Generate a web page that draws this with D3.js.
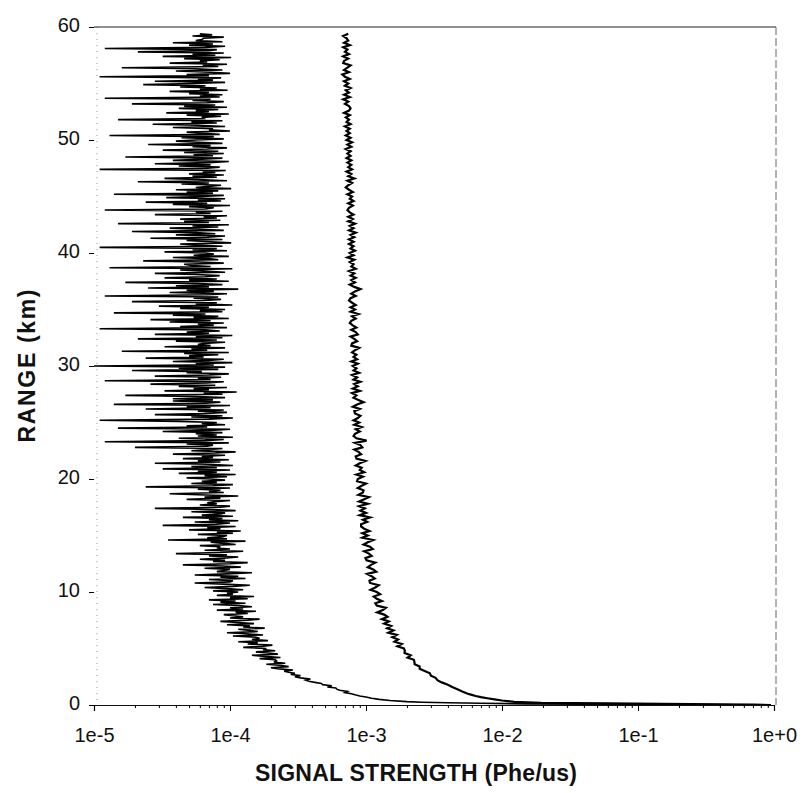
<html>
<head>
<meta charset="utf-8">
<style>
  body { margin: 0; background: #fff; }
  text { font-family: "Liberation Sans", Arial, sans-serif; fill: #111; }
</style>
</head>
<body>
<script src="https://cdn.jsdelivr.net/npm/d3@7"></script>
<script>

// axis ticks
var xTicks = [1e-5, 1e-4, 1e-3, 1e-2, 1e-1, 1];
var xTickLabels = ["1e-5", "1e-4", "1e-3", "1e-2", "1e-1", "1e+0"];
var yTicks = [0, 10, 20, 30, 40, 50, 60];

// near range part of each profile: [range km, signal in 1e-6 Phe/us]
var nearA = [[0.0, 900000], [0.03, 300000], [0.06, 60000], [0.1, 15000], [0.15, 7000],
             [0.2, 4000], [0.25, 2600], [0.3, 2000], [0.4, 1500], [0.5, 1250],
             [0.6, 1100], [0.7, 1000], [0.8, 900], [0.9, 830]];
var nearB = [[0.0, 950000], [0.03, 700000], [0.06, 400000], [0.1, 150000], [0.14, 60000],
             [0.18, 19400], [0.27, 12300], [0.4, 10000], [0.5, 8800], [0.6, 7800],
             [0.7, 7000], [0.8, 6400], [0.9, 6000]];

// channel A (weak channel): one row per km from 1 km, gate every 0.1 km, units 1e-6 Phe/us
var rowsA = [
  [780, 700, 730, 640, 610, 600, 520, 560, 480, 470],
  [420, 380, 360, 390, 330, 300, 330, 280, 300, 270],
  [250, 290, 230, 200, 270, 240, 185, 255, 210, 220],
  [215, 165, 235, 180, 145, 225, 190, 155, 215, 175],
  [185, 125, 175, 205, 135, 160, 115, 190, 145, 165],
  [155, 105, 175, 130, 95, 160, 140, 115, 180, 125],
  [140, 95, 150, 115, 85, 135, 165, 100, 125, 105],
  [90, 135, 110, 155, 80, 125, 100, 145, 115, 75],
  [130, 85, 110, 70, 135, 100, 150, 80, 105, 95],
  [115, 75, 125, 95, 65, 105, 140, 90, 55, 100],
  [105, 70, 130, 85, 115, 55, 95, 145, 80, 90],
  [100, 65, 120, 88, 45, 100, 135, 75, 92, 60],
  [90, 115, 70, 95, 40, 85, 125, 65, 100, 80],
  [85, 60, 110, 90, 72, 130, 35, 95, 68, 88],
  [95, 58, 105, 80, 120, 50, 85, 68, 110, 32],
  [80, 100, 55, 115, 70, 88, 45, 105, 62, 85],
  [92, 52, 110, 75, 28, 85, 100, 60, 80, 68],
  [78, 100, 48, 85, 65, 115, 58, 36, 90, 70],
  [85, 58, 100, 24, 75, 105, 52, 80, 62, 92],
  [72, 48, 95, 65, 110, 42, 80, 58, 100, 32],
  [80, 52, 105, 70, 28, 85, 58, 98, 45, 75],
  [62, 92, 38, 78, 110, 52, 70, 88, 20, 68],
  [75, 48, 98, 12, 66, 90, 42, 105, 58, 80],
  [56, 88, 32, 72, 100, 15, 68, 48, 92, 62],
  [80, 42, 11, 70, 105, 52, 88, 28, 65, 95],
  [58, 90, 24, 72, 48, 100, 14, 66, 85, 38],
  [75, 38, 92, 56, 17, 88, 64, 112, 33, 70],
  [54, 95, 42, 78, 26, 68, 90, 12, 72, 58],
  [86, 28, 70, 98, 48, 62, 19, 82, 42, 92],
  [10, 76, 56, 104, 38, 70, 90, 24, 64, 50],
  [82, 46, 98, 16, 68, 52, 92, 33, 72, 58],
  [64, 92, 40, 80, 21, 88, 56, 104, 28, 70],
  [48, 84, 66, 11, 95, 43, 76, 58, 90, 36],
  [72, 26, 98, 54, 82, 38, 66, 14, 88, 60],
  [92, 43, 70, 30, 104, 56, 80, 19, 64, 86],
  [54, 82, 12, 68, 95, 36, 76, 48, 115, 25],
  [70, 40, 88, 58, 17, 98, 50, 80, 33, 66],
  [84, 56, 28, 92, 64, 43, 104, 13, 72, 52],
  [46, 90, 60, 23, 82, 70, 38, 98, 54, 76],
  [66, 33, 95, 53, 80, 11, 88, 58, 43, 102],
  [72, 48, 88, 26, 68, 92, 40, 78, 56, 19],
  [90, 60, 36, 82, 53, 98, 15, 70, 46, 85],
  [43, 80, 64, 95, 28, 72, 56, 88, 12, 66],
  [76, 50, 100, 38, 68, 24, 86, 58, 92, 34],
  [62, 90, 14, 75, 48, 82, 40, 102, 56, 70],
  [86, 44, 70, 21, 95, 58, 33, 80, 53, 90],
  [50, 78, 63, 93, 11, 68, 84, 42, 72, 28],
  [70, 98, 38, 62, 88, 17, 75, 54, 90, 46],
  [82, 32, 68, 95, 53, 72, 25, 88, 58, 40],
  [56, 90, 44, 76, 13, 84, 63, 48, 100, 70],
  [75, 38, 92, 58, 27, 80, 52, 88, 15, 66],
  [62, 86, 48, 98, 34, 70, 56, 82, 42, 95],
  [46, 78, 19, 68, 90, 53, 72, 12, 84, 60],
  [88, 50, 70, 36, 96, 60, 80, 43, 66, 23],
  [54, 92, 28, 75, 58, 86, 11, 70, 48, 100],
  [72, 40, 88, 56, 16, 82, 63, 95, 36, 68],
  [60, 84, 46, 102, 32, 78, 53, 90, 21, 70],
  [80, 12, 66, 92, 50, 75, 38, 88, 56, 62],
  [64, 90, 53, 74, 60]
];

// channel B (strong channel): one row per km from 1 km, gate every 0.2 km, units 1e-6 Phe/us
var rowsB = [
  [5600, 5100, 4700, 4300, 4000],
  [3600, 3350, 3250, 3000, 2950],
  [2700, 2480, 2480, 2280, 2270],
  [2250, 2020, 2130, 1920, 1930],
  [1900, 1700, 1830, 1620, 1720],
  [1560, 1680, 1460, 1590, 1430],
  [1530, 1360, 1470, 1310, 1440],
  [1360, 1210, 1330, 1400, 1200],
  [1170, 1310, 1200, 1140, 1270],
  [1200, 1080, 1170, 1240, 1070],
  [1060, 1160, 1100, 1020, 1190],
  [1130, 1030, 1090, 1170, 1010],
  [990, 1100, 1050, 970, 1120],
  [1070, 960, 1030, 1130, 940],
  [1030, 940, 1060, 970, 920],
  [920, 1020, 950, 1070, 900],
  [1000, 910, 980, 890, 1030],
  [890, 970, 1050, 880, 950],
  [960, 870, 930, 1000, 860],
  [870, 950, 850, 970, 900],
  [930, 840, 900, 990, 850],
  [840, 920, 880, 820, 940],
  [910, 830, 1010, 850, 810],
  [830, 900, 840, 930, 820],
  [890, 810, 870, 910, 830],
  [820, 900, 800, 860, 960],
  [880, 810, 850, 790, 900],
  [800, 870, 820, 910, 810],
  [860, 790, 890, 810, 850],
  [800, 870, 780, 860, 810],
  [850, 790, 830, 890, 780],
  [790, 860, 820, 770, 870],
  [840, 780, 850, 800, 760],
  [780, 840, 790, 880, 770],
  [830, 770, 840, 790, 750],
  [770, 840, 780, 830, 910],
  [820, 760, 830, 780, 840],
  [770, 820, 750, 840, 780],
  [810, 760, 820, 730, 810],
  [760, 830, 770, 810, 750],
  [810, 750, 820, 770, 840],
  [750, 810, 760, 830, 740],
  [800, 740, 810, 760, 730],
  [750, 800, 740, 810, 760],
  [790, 730, 800, 750, 710],
  [740, 790, 730, 820, 740],
  [780, 720, 790, 740, 780],
  [730, 780, 720, 770, 730],
  [770, 710, 780, 730, 790],
  [720, 770, 710, 760, 720],
  [760, 700, 770, 720, 750],
  [710, 760, 690, 750, 770],
  [750, 700, 740, 680, 760],
  [690, 750, 710, 770, 700],
  [740, 690, 760, 700, 670],
  [750, 690, 730, 770, 680],
  [690, 740, 680, 750, 700],
  [730, 680, 760, 690, 740],
  [720, 680, 740]
];

// build [range, signal] points from near part + gate rows
function profile(near, rows, step) {
  var pts = near.map(function(d) { return [d[0], d[1] * 1e-6]; });
  rows.forEach(function(row, i) {
    row.forEach(function(v, j) {
      pts.push([1 + i + j * step, v * 1e-6]);
    });
  });
  return pts;
}
var dataA = profile(nearA, rowsA, 0.1);
var dataB = profile(nearB, rowsB, 0.2);

var width = 804, height = 793;
var plotL = 94, plotR = 774, plotT = 27, plotB = 705;

var svg = d3.select("body").append("svg")
    .attr("width", width)
    .attr("height", height);

var x = d3.scaleLog().domain([1e-5, 1]).range([plotL, plotR]);
var y = d3.scaleLinear().domain([0, 60]).range([plotB, plotT]);

svg.append("clipPath").attr("id", "plot")
  .append("rect")
    .attr("x", plotL).attr("y", plotT - 2)
    .attr("width", plotR - plotL + 2).attr("height", plotB - plotT + 2);

// frame: faint left, solid top, dashed right
svg.append("line")
    .attr("x1", plotL + 3).attr("x2", plotL + 3).attr("y1", plotT).attr("y2", plotB)
    .attr("stroke", "#999").attr("stroke-width", 1).attr("stroke-dasharray", "1,5");
svg.append("line")
    .attr("x1", plotL).attr("x2", plotR + 2).attr("y1", plotT).attr("y2", plotT)
    .attr("stroke", "#222").attr("stroke-width", 1.2);
svg.append("line")
    .attr("x1", plotR + 2).attr("x2", plotR + 2).attr("y1", plotT).attr("y2", plotB)
    .attr("stroke", "#666").attr("stroke-width", 1).attr("stroke-dasharray", "8,3");

// the two profiles
var line = d3.line()
    .x(function(d) { return x(d[1]); })
    .y(function(d) { return y(d[0]); });

var g = svg.append("g").attr("clip-path", "url(#plot)");
g.append("path")
    .datum(dataA)
    .attr("d", line)
    .attr("fill", "none")
    .attr("stroke", "#000")
    .attr("stroke-width", 1.6);
g.append("path")
    .datum(dataB)
    .attr("d", line)
    .attr("fill", "none")
    .attr("stroke", "#000")
    .attr("stroke-width", 2.2);

// x axis
var minor = [];
xTicks.slice(0, -1).forEach(function(t) {
  for (var k = 2; k < 10; k++) minor.push(t * k);
});
var xAxis = svg.append("g")
    .attr("transform", "translate(0," + plotB + ")")
    .call(d3.axisBottom(x).tickValues(xTicks).tickSize(6).tickPadding(17)
      .tickFormat(function(d, i) { return xTickLabels[i]; }));
xAxis.select(".domain").attr("stroke", "#111").attr("stroke-width", 1.2);
xAxis.selectAll("text").attr("font-size", 20);
svg.append("g")
    .attr("transform", "translate(0," + plotB + ")")
    .call(d3.axisBottom(x).tickValues(minor).tickSize(3).tickFormat(""))
    .select(".domain").remove();

// y axis
var yAxis = svg.append("g")
    .attr("transform", "translate(" + plotL + ",0)")
    .call(d3.axisLeft(y).tickValues(yTicks).tickSize(5).tickPadding(9));
yAxis.select(".domain").remove();
yAxis.selectAll("text").attr("font-size", 20).attr("dy", "0.2em");

// titles
svg.append("text")
    .attr("transform", "translate(35,366) rotate(-90)")
    .attr("text-anchor", "middle")
    .attr("font-size", 23)
    .attr("font-weight", "bold")
    .attr("textLength", 153)
    .text("RANGE (km)");
svg.append("text")
    .attr("x", 416).attr("y", 781)
    .attr("text-anchor", "middle")
    .attr("font-size", 23)
    .attr("font-weight", "bold")
    .attr("textLength", 322)
    .text("SIGNAL STRENGTH (Phe/us)");

</script>
</body>
</html>
